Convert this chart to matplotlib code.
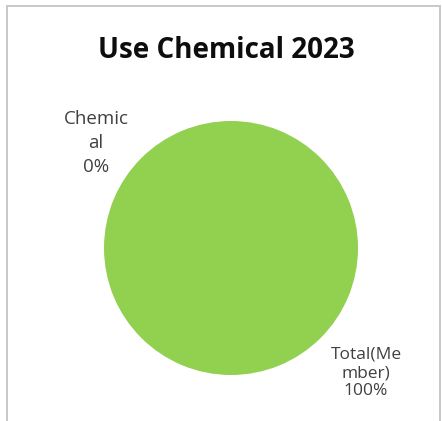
import matplotlib
matplotlib.use("Agg")
import matplotlib.pyplot as plt
from matplotlib.patches import Rectangle

title = "Use Chemical 2023"
categories = ["Chemic\nal", "Total(Me\nmber)"]
values = [0, 100]
colors = ["#4472C4", "#92D050"]

W, H = 442, 421
fig = plt.figure(figsize=(W / 100, H / 100), dpi=100)
fig.patch.set_facecolor("white")

# outer chart border
fig.add_artist(Rectangle((7 / W, -0.01), (433 / W), (H - 6) / H + 0.01,
                         transform=fig.transFigure, fill=False,
                         edgecolor="#C8C8C8", linewidth=1.4))

cx, cy, r = 231, 248, 127
ax = fig.add_axes([(cx - r) / W, (H - cy - r) / H, 2 * r / W, 2 * r / H])
ax.pie(values, colors=colors, startangle=90, counterclock=False,
       wedgeprops=dict(linewidth=0))
ax.set_xlim(-1, 1)
ax.set_ylim(-1, 1)
ax.set_aspect("equal")
ax.axis("off")

fig.text(226 / W, 1 - 50 / H, title, ha="center", va="center",
         fontsize=20, fontweight="bold", color="#0D0D0D", family="Open Sans")

total = sum(values)
label_style = [((96, 143), 13.5, 1.45), ((366, 373), 12.5, 1.2)]
for cat, v, ((x, y), fs, ls) in zip(categories, values, label_style):
    fig.text(x / W, 1 - y / H, f"{cat}\n{round(100 * v / total)}%",
             ha="center", va="center", fontsize=fs, color="#404040",
             linespacing=ls, family="Open Sans")

fig.savefig("out.png", dpi=100, facecolor="white")
